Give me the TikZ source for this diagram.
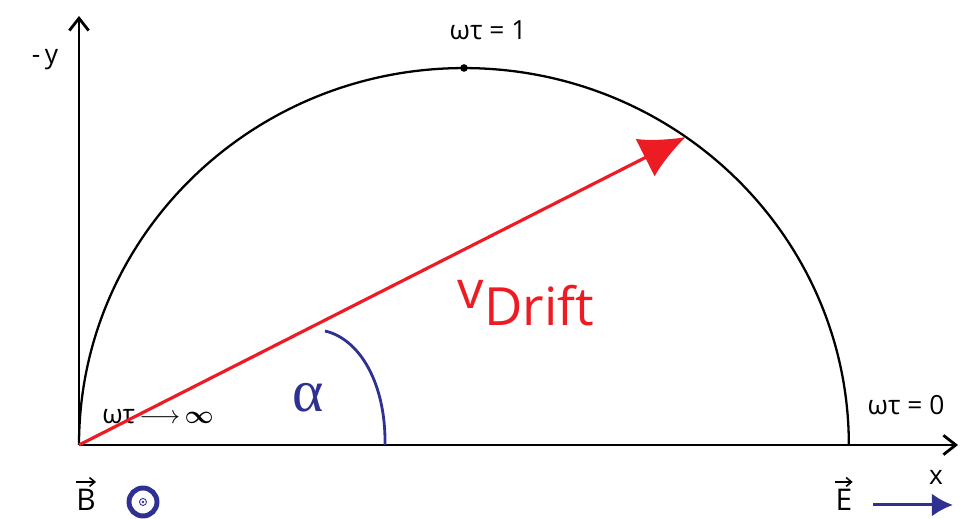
\documentclass[tikz,border=0pt]{standalone}
\usepackage{fontspec}
\usepackage{amsmath}
\usepackage{tikz}
\usetikzlibrary{arrows.meta, positioning, calc}
\setmainfont{Open Sans}
\newfontfamily\greekserif{Liberation Serif}
\definecolor{driftred}{HTML}{ED1C24}
\definecolor{fieldblue}{HTML}{2E3192}

\begin{document}
\begin{tikzpicture}[
  x=0.02cm, y=0.02cm,
  axis/.style={line width=1.6pt, -{Straight Barb[length=7pt, width=11pt, line width=1.6pt]}},
  curve/.style={line width=1.3pt},
  label/.style={inner sep=0pt, font=\fontsize{15}{17}\selectfont},
  vecarrow/.style={line width=0.9pt, -{Straight Barb[length=3pt, width=5pt]}},
  drift/.style={line width=1.8pt, driftred, -{Latex[length=26pt, width=24pt]}},
  field/.style={line width=1.7pt, fieldblue, -{Latex[length=12pt, width=13pt]}}
]
\useasboundingbox (0,0) rectangle (974,519);
% axes
\coordinate (O) at (79,74);
\coordinate (C) at (464,74);
\coordinate (Ytip) at (79,503);
\coordinate (Xtip) at (958,74);
\draw[axis] (O) -- (Ytip);
\draw[axis] (O) -- (Xtip);
\node[label] (ylab) at (45,459) {-\,y};
\node[label] (xlab) at (936,42) {x};
% semicircle of drift velocities
\draw[curve] (O) arc[start angle=180, end angle=0, x radius=7.7cm, y radius=7.54cm];
\coordinate (Top) at ($(C)+(0,377)$);
\fill (Top) circle[radius=3.8];
\node[label] (one) at (488,489) {ωτ = 1};
\node[label] (zero) at (906,114) {ωτ = 0};
\node[label] (inf) at (158,102) {ωτ\,$\longrightarrow$\,$\boldsymbol{\infty}$};
% drift vector and angle
\coordinate (P) at ($(C)+(54.8:385 and 377)$);
\draw[drift] (O) -- (P);
\node[inner sep=0pt, text=driftred, font=\fontsize{30}{31}\selectfont] (vd) at (526,216)
  {v\raisebox{-0.32em}{Drift}};
\draw[line width=1.6pt, fieldblue] (385,74) .. controls (386,135) and (360,180) .. (325,188);
\node[inner sep=0pt, text=fieldblue, font=\greekserif\fontsize{34}{34}\selectfont] (alpha) at (308,121) {α};
% fields
\node[label, font=\fontsize{17}{18}\selectfont] (B) at (86,19) {B};
\draw[vecarrow] ([yshift=4]B.north west) -- ([yshift=4]B.north east);
\draw[fieldblue, line width=2.8pt] (143,17) circle[radius=14];
\draw[fieldblue, line width=0.5pt] (143,17) circle[radius=3.5];
\fill[fieldblue] (143,17) circle[radius=1.3];
\node[label, font=\fontsize{17}{18}\selectfont] (E) at (844,19) {E};
\draw[vecarrow] ([yshift=4]E.north west) -- ([yshift=4]E.north east);
\coordinate (Es) at (873,14);
\coordinate (Ee) at (953,14);
\draw[field] (Es) -- (Ee);
\end{tikzpicture}
\end{document}
